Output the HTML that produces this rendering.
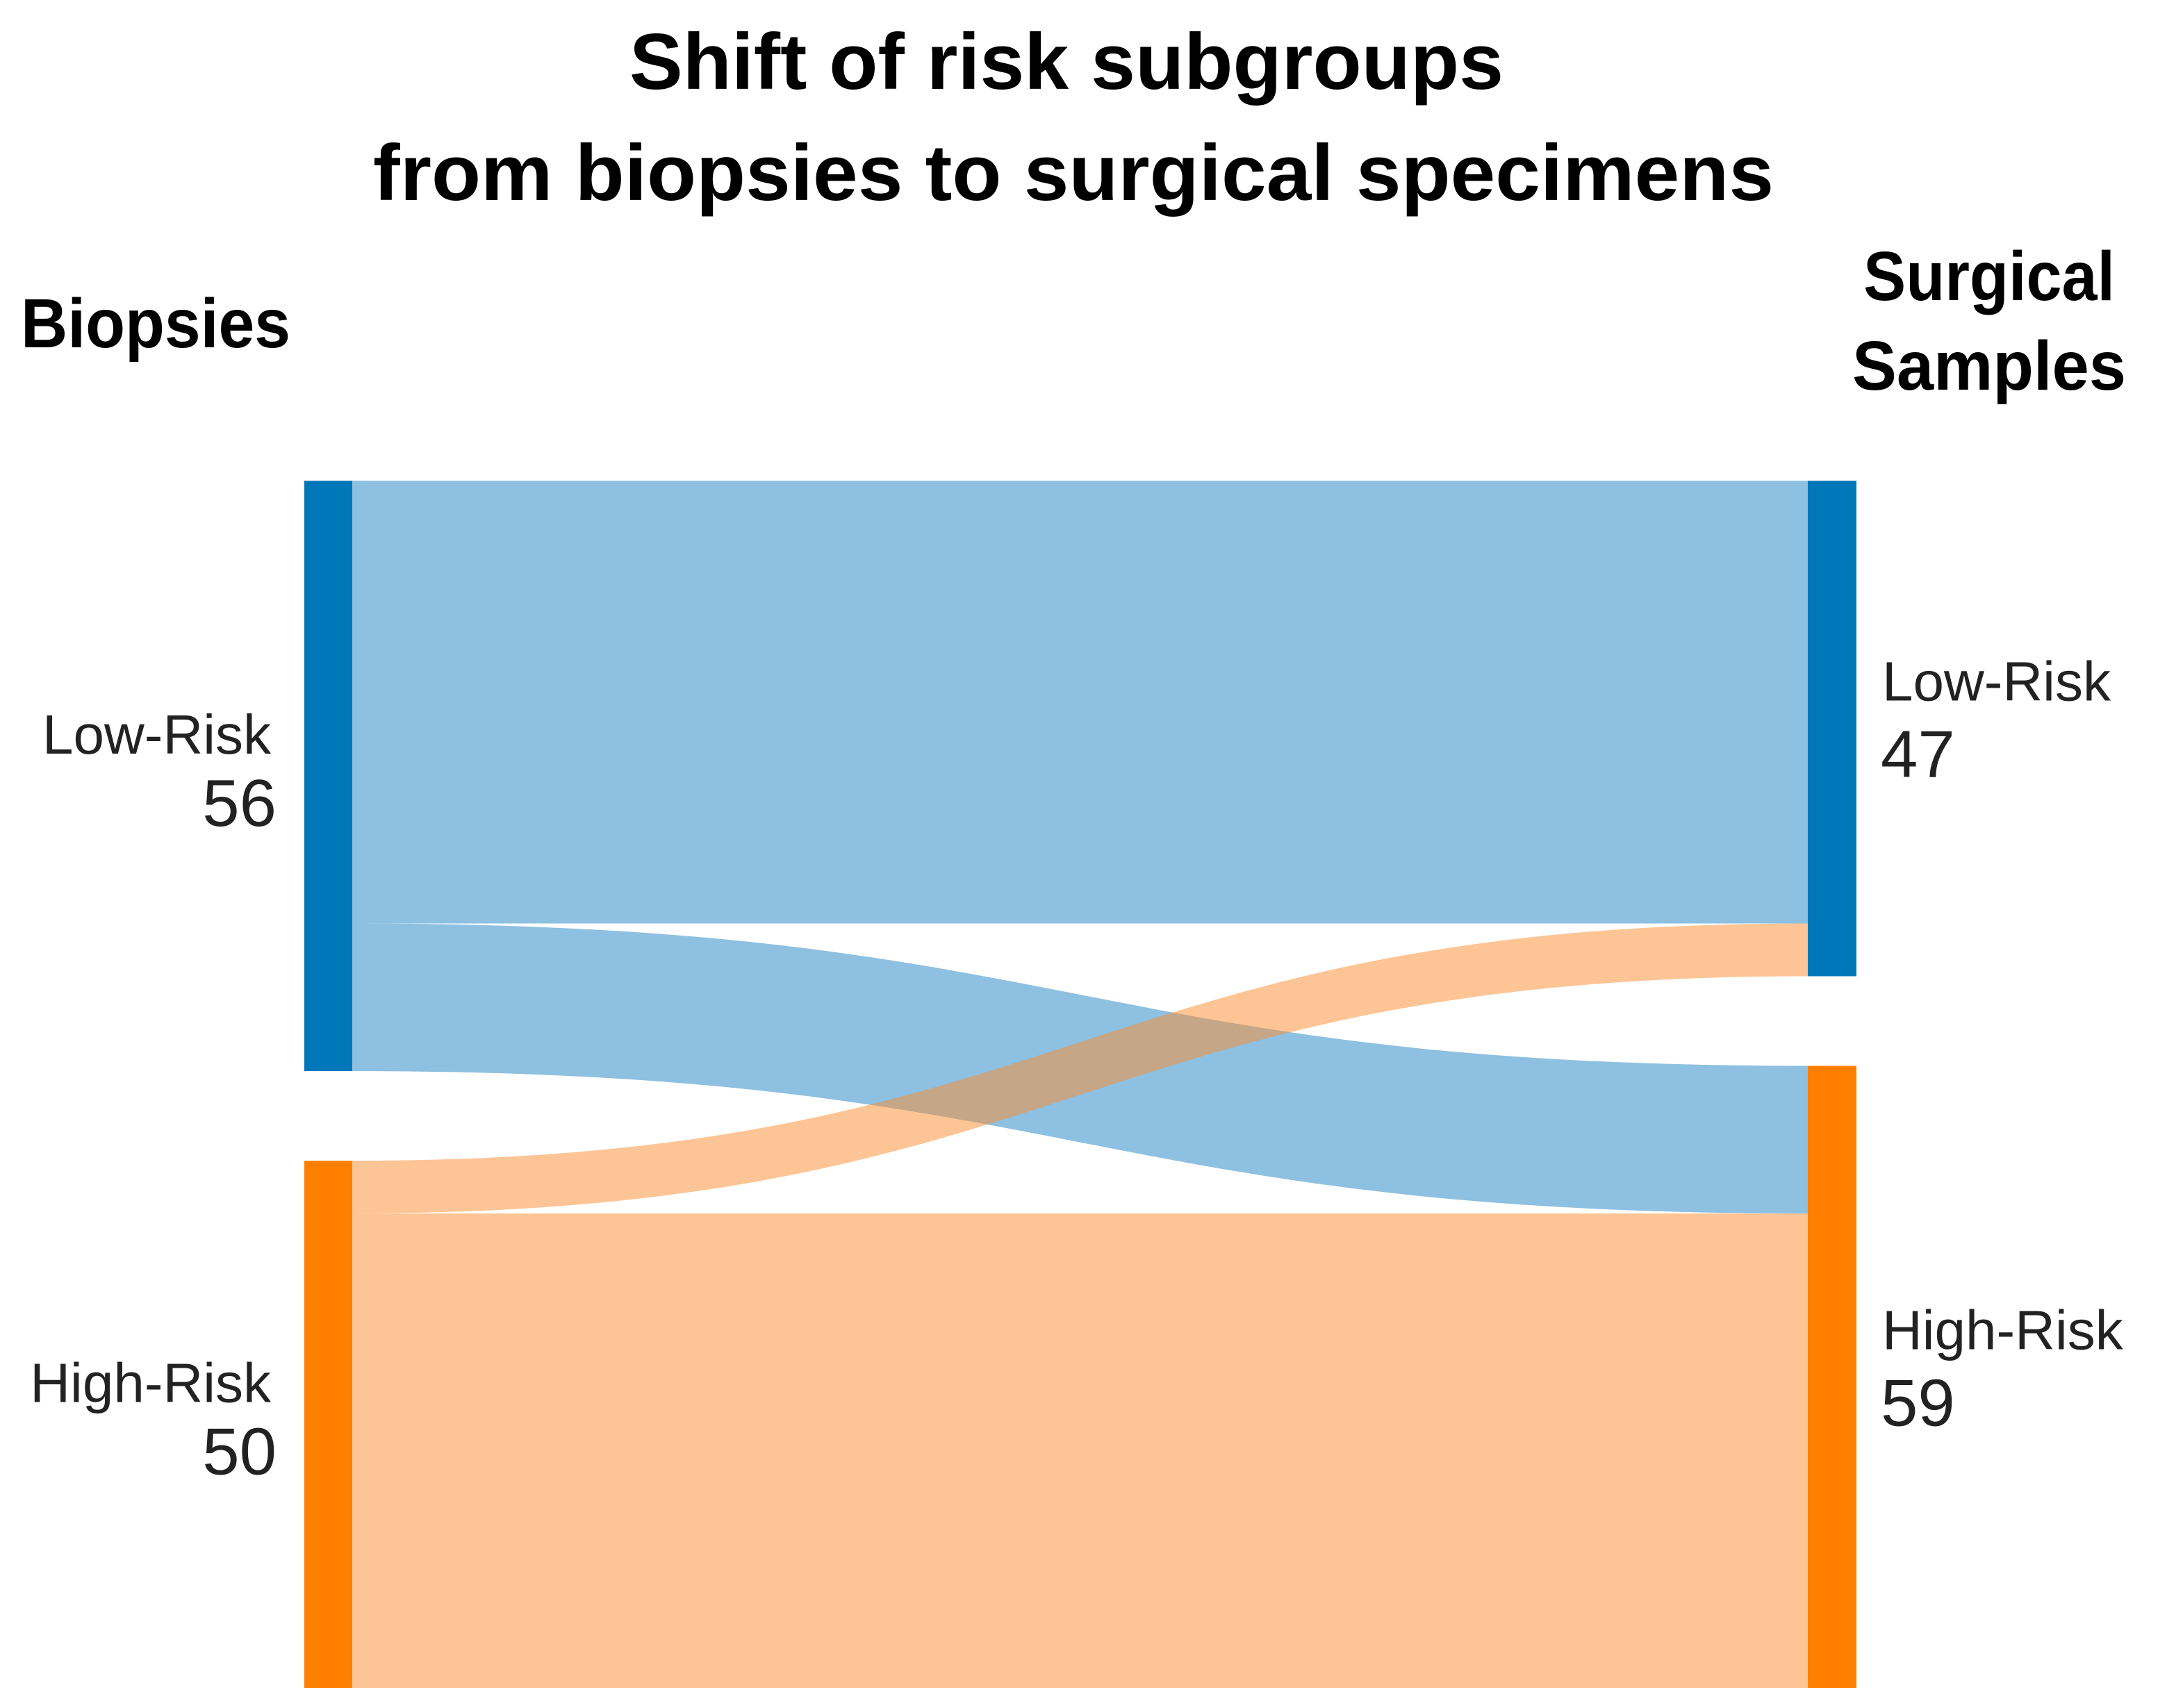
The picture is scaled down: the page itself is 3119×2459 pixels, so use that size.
<!DOCTYPE html>
<html><head><meta charset="utf-8"><style>
html,body{margin:0;padding:0;background:#fff;}
svg{display:block;}
text{font-family:"Liberation Sans",sans-serif;}
</style></head><body>
<svg id="chart" width="3119" height="2459" viewBox="0 0 3119 2459" xmlns="http://www.w3.org/2000/svg">
<text x="1535" y="128" text-anchor="middle" font-size="114" font-weight="bold" textLength="1258" lengthAdjust="spacingAndGlyphs">Shift of risk subgroups</text>
<text x="1545" y="288" text-anchor="middle" font-size="114" font-weight="bold" textLength="2016" lengthAdjust="spacingAndGlyphs">from biopsies to surgical specimens</text>
<text x="30" y="500" font-size="100" font-weight="bold" textLength="388" lengthAdjust="spacingAndGlyphs">Biopsies</text>
<text x="2682" y="432" font-size="100" font-weight="bold" textLength="362" lengthAdjust="spacingAndGlyphs">Surgical</text>
<text x="2666" y="561" font-size="100" font-weight="bold" textLength="394" lengthAdjust="spacingAndGlyphs">Samples</text>
<g id="links"></g>
<g id="nodes"></g>
</svg>
<script>
const sourceNames = ["Low-Risk", "High-Risk"];
const targetNames = ["Low-Risk", "High-Risk"];
// flows[source][target]
const flowLowRisk = [42, 14];
const flowHighRisk = [5, 45];

const NS = "http://www.w3.org/2000/svg";
const flows = [flowLowRisk, flowHighRisk];
const top0 = 692, pxPerUnit = 15.18, gap = 129;
const xL0 = 438, xL1 = 507, xR0 = 2602, xR1 = 2672;
const nodeColors = ["#0077b8", "#ff7f00"];
const linkColors = ["rgb(30,130,195)", "rgb(251,140,45)"];

const srcTotals = flows.map(r => r.reduce((a, b) => a + b, 0));
const tgtTotals = targetNames.map((_, j) => flows.reduce((a, r) => a + r[j], 0));
function positions(totals) {
  const out = []; let y = top0;
  totals.forEach(t => { out.push(y); y += t * pxPerUnit + gap; });
  return out;
}
const srcY = positions(srcTotals), tgtY = positions(tgtTotals);
const links = document.getElementById("links"), nodes = document.getElementById("nodes");
const tgtOff = tgtY.slice();
const srcOff = srcY.slice();
flows.forEach((row, i) => {
  row.forEach((v, j) => {
    const h = v * pxPerUnit;
    const y0 = srcOff[i], y1 = tgtOff[j];
    srcOff[i] += h; tgtOff[j] += h;
    const mx = (xL1 + xR0) / 2;
    const d = `M${xL1},${y0} C${mx},${y0} ${mx},${y1} ${xR0},${y1} L${xR0},${y1 + h} C${mx},${y1 + h} ${mx},${y0 + h} ${xL1},${y0 + h} Z`;
    const p = document.createElementNS(NS, "path");
    p.setAttribute("d", d);
    p.setAttribute("fill", linkColors[i]);
    p.setAttribute("fill-opacity", "0.5");
    
    
    links.appendChild(p);
  });
});
function addText(x, y, s, size, anchor, name) {
  const t = document.createElementNS(NS, "text");
  t.setAttribute("x", x); t.setAttribute("y", y);
  t.setAttribute("font-size", size); t.setAttribute("text-anchor", anchor);
  t.setAttribute("fill", "#222");
  t.textContent = s;
  
  
  nodes.appendChild(t);
}
function addNode(x0, x1, y, total, color, name) {
  const r = document.createElementNS(NS, "rect");
  r.setAttribute("x", x0); r.setAttribute("y", y);
  r.setAttribute("width", x1 - x0); r.setAttribute("height", total * pxPerUnit);
  r.setAttribute("fill", color);
  
  
  nodes.appendChild(r);
}
sourceNames.forEach((n, i) => {
  addNode(xL0, xL1, srcY[i], srcTotals[i], nodeColors[i], 'source-node-' + n.toLowerCase());
  const mid = srcY[i] + srcTotals[i] * pxPerUnit / 2;
  addText(390, mid - 32, n, 80, "end", 'source-label-' + n.toLowerCase());
  addText(398, mid + 72, String(srcTotals[i]), 96, "end", 'source-value-' + n.toLowerCase());
});
targetNames.forEach((n, j) => {
  addNode(xR0, xR1, tgtY[j], tgtTotals[j], nodeColors[j], 'target-node-' + n.toLowerCase());
  const mid = tgtY[j] + tgtTotals[j] * pxPerUnit / 2;
  addText(2709, mid - 40, n, 80, "start", 'target-label-' + n.toLowerCase());
  addText(2707, mid + 70, String(tgtTotals[j]), 96, "start", 'target-value-' + n.toLowerCase());
});
</script>
</body></html>
